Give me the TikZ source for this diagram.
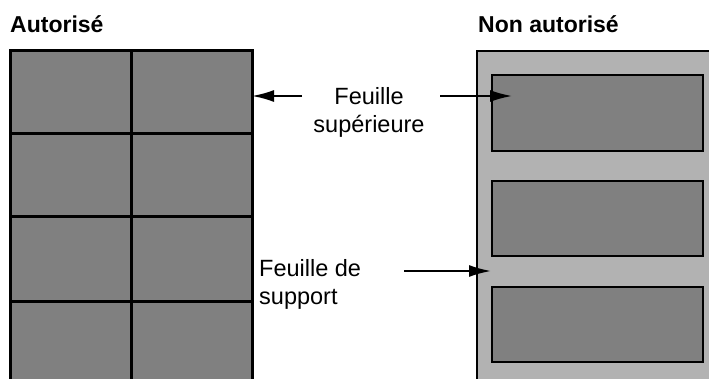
\documentclass[tikz,border=0pt]{standalone}
\usepackage{fontspec}
\setmainfont{Liberation Sans}
\usetikzlibrary{arrows.meta}
\definecolor{sheetgray}{gray}{0.5}
\definecolor{backgray}{gray}{0.7}
\begin{document}
\begin{tikzpicture}[x=1pt,y=-1pt,
  pointer/.style={-{Latex[length=22pt,width=12pt]},line width=2pt},
  txt/.style={font=\fontsize{23.5}{28}\selectfont,inner sep=0pt},
  head/.style={font=\fontsize{23}{28}\selectfont\bfseries,inner sep=0pt,anchor=base west}]
  \useasboundingbox (0,0) rectangle (709,379);
  \clip (0,0) rectangle (709,379);
  % allowed: sheets cut edge to edge
  \node[head] (ok) at (10,33) {Autorisé};
  \fill[sheetgray] (10,51) rectangle (252,390);
  \draw[line width=3pt] (10,390) -- (10,51) -- (252,51) -- (252,390);
  \draw[line width=3pt] (131,51) -- (131,390);
  \foreach \y in {134,217,301}
    \draw[line width=3pt] (10,\y) -- (252,\y);
  % not allowed: backing sheet between labels
  \node[head] (notok) at (478,33) {Non autorisé};
  \fill[backgray] (477,51) rectangle (715,390);
  \draw[line width=2pt] (477,390) -- (477,51) -- (715,51);
  \foreach \t/\b in {75/151,181/256,287/362}
    \draw[line width=2pt,fill=sheetgray] (492,\t) rectangle (703,\b);
  % labels (base = last line)
  \node[txt,align=center,anchor=base] (top) at (369,133) {Feuille\\supérieure};
  \node[txt,align=left,anchor=base west] (back) at (259,304) {Feuille de\\support};
  \coordinate (top-l) at (302,96);
  \coordinate (top-r) at (440,96);
  \coordinate (back-r) at (404,271);
  \coordinate (edge) at (252,96);
  \coordinate (label1) at (512,96);
  \coordinate (gap) at (491,271);
  \draw[pointer] (top-l) -- (edge);
  \draw[pointer] (top-r) -- (label1);
  \draw[pointer] (back-r) -- (gap);
\end{tikzpicture}
\end{document}
